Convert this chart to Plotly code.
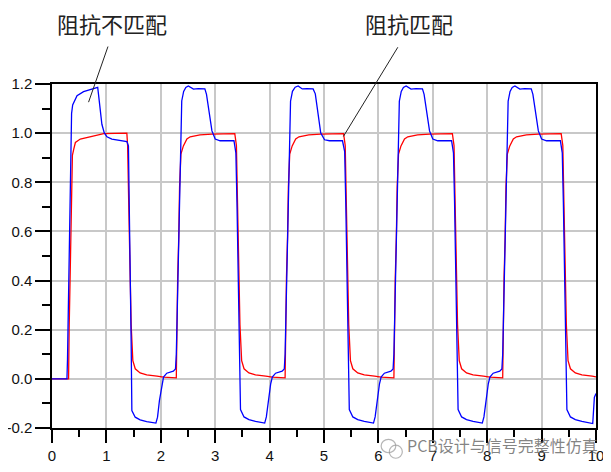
import plotly.graph_objects as go

# ---- data ----
t_unmatched = [
    0.00, 0.275, 0.285, 0.30, 0.315, 0.33, 0.345, 0.36, 0.38, 0.40, 0.46, 0.58, 0.76, 0.84, 0.855, 0.886, 0.917, 0.96,
    1.01, 1.10, 1.28, 1.376, 1.405, 1.42, 1.44, 1.455, 1.468, 1.53, 1.62, 1.74, 1.91, 1.94, 1.975,
    2.02, 2.05, 2.11, 2.23, 2.27, 2.285, 2.30, 2.32, 2.335, 2.36, 2.37, 2.385, 2.42, 2.46, 2.506, 2.55, 2.60, 2.69, 2.81,
    2.84, 2.89, 2.94, 3.00, 3.09, 3.345, 3.38, 3.40, 3.42, 3.445, 3.465, 3.53, 3.62, 3.74, 3.91, 3.94, 3.975,
    4.02, 4.05, 4.11, 4.23, 4.27, 4.285, 4.30, 4.32, 4.335, 4.36, 4.37, 4.385, 4.42, 4.47, 4.525, 4.56, 4.60, 4.69, 4.80,
    4.84, 4.89, 4.94, 5.01, 5.10, 5.34, 5.38, 5.40, 5.42, 5.445, 5.465, 5.53, 5.62, 5.74, 5.91, 5.94, 5.975,
    6.02, 6.05, 6.11, 6.23, 6.27, 6.285, 6.30, 6.32, 6.335, 6.36, 6.37, 6.385, 6.42, 6.46, 6.51, 6.55, 6.60, 6.69, 6.81,
    6.84, 6.89, 6.94, 7.00, 7.09, 7.345, 7.38, 7.40, 7.42, 7.445, 7.465, 7.53, 7.62, 7.74, 7.91, 7.94, 7.975,
    8.02, 8.05, 8.11, 8.23, 8.27, 8.285, 8.30, 8.32, 8.335, 8.36, 8.37, 8.385, 8.42, 8.46, 8.51, 8.55, 8.60, 8.69, 8.81,
    8.84, 8.89, 8.94, 9.00, 9.09, 9.345, 9.38, 9.40, 9.42, 9.445, 9.465, 9.53, 9.62, 9.74, 9.91, 9.94, 9.97, 10.0,
]
v_unmatched = [
    0.000, 0.000, 0.080, 0.260, 0.490, 0.720, 0.950, 1.080, 1.115, 1.125, 1.152, 1.169, 1.181, 1.186, 1.158, 1.090, 1.036, 1.002,
    0.985, 0.976, 0.969, 0.966, 0.948, 0.750, 0.450, 0.150, -0.129, -0.156, -0.167, -0.174, -0.180, -0.156, -0.088,
    -0.020, 0.007, 0.023, 0.031, 0.040, 0.100, 0.250, 0.454, 0.643, 0.955, 1.043, 1.131, 1.170, 1.186, 1.192, 1.185, 1.179, 1.181, 1.180,
    1.158, 1.090, 1.009, 0.976, 0.969, 0.969, 0.920, 0.720, 0.450, 0.150, -0.125, -0.155, -0.166, -0.173, -0.180, -0.155, -0.088,
    -0.020, 0.007, 0.023, 0.031, 0.040, 0.100, 0.250, 0.450, 0.640, 0.950, 1.040, 1.130, 1.170, 1.187, 1.192, 1.185, 1.180, 1.181, 1.180,
    1.160, 1.085, 1.000, 0.973, 0.969, 0.969, 0.925, 0.720, 0.450, 0.150, -0.125, -0.155, -0.166, -0.173, -0.180, -0.155, -0.088,
    -0.020, 0.007, 0.023, 0.031, 0.040, 0.100, 0.250, 0.450, 0.640, 0.950, 1.040, 1.130, 1.170, 1.186, 1.192, 1.185, 1.179, 1.181, 1.180,
    1.158, 1.090, 1.009, 0.976, 0.969, 0.969, 0.920, 0.720, 0.450, 0.150, -0.125, -0.155, -0.166, -0.173, -0.180, -0.155, -0.088,
    -0.020, 0.007, 0.023, 0.031, 0.040, 0.100, 0.250, 0.450, 0.640, 0.950, 1.040, 1.130, 1.170, 1.186, 1.192, 1.185, 1.179, 1.181, 1.180,
    1.158, 1.090, 1.009, 0.976, 0.969, 0.969, 0.920, 0.720, 0.450, 0.150, -0.125, -0.155, -0.166, -0.173, -0.180, -0.182, -0.075, -0.060,
]

t_matched = [
    0.00, 0.305, 0.315, 0.33, 0.345, 0.36, 0.375, 0.40, 0.43, 0.52, 0.70, 0.95, 1.376, 1.39, 1.41, 1.43, 1.455, 1.486,
    1.53, 1.62, 1.74, 1.93, 2.05, 2.285,
    2.295, 2.31, 2.33, 2.345, 2.37, 2.415, 2.48, 2.54, 2.72, 2.94, 3.36, 3.39, 3.41, 3.43, 3.455, 3.486,
    3.53, 3.62, 3.74, 3.93, 4.05, 4.285,
    4.295, 4.31, 4.33, 4.345, 4.37, 4.415, 4.48, 4.54, 4.72, 4.94, 5.36, 5.39, 5.41, 5.43, 5.455, 5.486,
    5.53, 5.62, 5.74, 5.93, 6.05, 6.285,
    6.295, 6.31, 6.33, 6.345, 6.37, 6.415, 6.48, 6.54, 6.72, 6.94, 7.36, 7.39, 7.41, 7.43, 7.455, 7.486,
    7.53, 7.62, 7.74, 7.93, 8.05, 8.285,
    8.295, 8.31, 8.33, 8.345, 8.37, 8.415, 8.48, 8.54, 8.72, 8.94, 9.36, 9.39, 9.41, 9.43, 9.455, 9.486,
    9.53, 9.62, 9.74, 9.93, 10.0,
]
v_matched = [
    0.000, 0.000, 0.200, 0.420, 0.620, 0.800, 0.910, 0.935, 0.962, 0.976, 0.985, 0.998, 1.000, 0.950, 0.720, 0.470, 0.220, 0.074,
    0.041, 0.024, 0.016, 0.011, 0.007, 0.004,
    0.210, 0.410, 0.576, 0.780, 0.915, 0.948, 0.976, 0.985, 0.993, 0.996, 0.998, 0.950, 0.720, 0.470, 0.220, 0.074,
    0.041, 0.024, 0.016, 0.011, 0.007, 0.004,
    0.210, 0.410, 0.576, 0.780, 0.915, 0.948, 0.976, 0.985, 0.993, 0.996, 0.998, 0.950, 0.720, 0.470, 0.220, 0.074,
    0.041, 0.024, 0.016, 0.011, 0.007, 0.004,
    0.210, 0.410, 0.576, 0.780, 0.915, 0.948, 0.976, 0.985, 0.993, 0.996, 0.998, 0.950, 0.720, 0.470, 0.220, 0.074,
    0.041, 0.024, 0.016, 0.011, 0.007, 0.004,
    0.210, 0.410, 0.576, 0.780, 0.915, 0.948, 0.976, 0.985, 0.993, 0.996, 0.998, 0.950, 0.720, 0.470, 0.220, 0.074,
    0.041, 0.024, 0.016, 0.011, 0.008,
]

x_ticks = [0, 1, 2, 3, 4, 5, 6, 7, 8, 9, 10]
y_ticks = [-0.2, 0.0, 0.2, 0.4, 0.6, 0.8, 1.0, 1.2]
y_tick_labels = ["-0.2", "0.0", "0.2", "0.4", "0.6", "0.8", "1.0", "1.2"]

label_unmatched = "阻抗不匹配"
label_matched = "阻抗匹配"
watermark = "PCB设计与信号完整性仿真"

# ---- figure ----
fig = go.Figure()
fig.add_trace(go.Scatter(x=t_matched, y=v_matched, mode="lines",
                         line=dict(color="#ff0000", width=1.3), name=label_matched))
fig.add_trace(go.Scatter(x=t_unmatched, y=v_unmatched, mode="lines",
                         line=dict(color="#0000ff", width=1.3), name=label_unmatched))

axis_font = dict(family="Liberation Sans, Arial, sans-serif", size=15, color="#111111")

# page body has an 8px default margin, compensate in the figure margins
fig.update_layout(
    template="none",
    width=611, height=472,
    margin=dict(l=44, r=23, t=76, b=52, autoexpand=False),
    paper_bgcolor="white", plot_bgcolor="white",
    showlegend=False,
    xaxis=dict(range=[0, 10], tickvals=x_ticks, ticks="outside", ticklen=13, tickwidth=1.5,
               tickcolor="#000000", showline=True, linecolor="#000000", linewidth=1.5, mirror=True,
               showgrid=True, gridcolor="#c8c8c8", gridwidth=1.5, zeroline=False, automargin=False,
               tickfont=axis_font,
               minor=dict(dtick=0.5, ticks="outside", ticklen=7, tickwidth=1.5, tickcolor="#000000",
                          showgrid=False)),
    yaxis=dict(range=[-0.2, 1.2], tickvals=y_ticks, ticktext=y_tick_labels, ticks="outside", ticklen=15,
               tickwidth=1.5, tickcolor="#000000", showline=True, linecolor="#000000", linewidth=1.5,
               mirror=True, showgrid=True, gridcolor="#c8c8c8", gridwidth=1.5, zeroline=False,
               automargin=False, tickfont=axis_font,
               minor=dict(dtick=0.1, ticks="outside", ticklen=8, tickwidth=1.5, tickcolor="#000000",
                          showgrid=False)),
)

cjk = "Noto Sans CJK SC, sans-serif"
fig.add_annotation(x=0.1099, y=1.1785, xref="paper", yref="paper", text=label_unmatched,
                   xanchor="center", yanchor="middle",
                   showarrow=False, font=dict(family=cjk, size=22, color="#222222"))
fig.add_annotation(x=0.6564, y=1.1785, xref="paper", yref="paper", text=label_matched,
                   xanchor="center", yanchor="middle",
                   showarrow=False, font=dict(family=cjk, size=22, color="#222222"))
fig.add_shape(type="line", xref="paper", yref="paper", x0=0.1029, y0=1.1089, x1=0.0672, y1=0.9472,
              line=dict(color="#222222", width=1))
fig.add_shape(type="line", xref="paper", yref="paper", x0=0.6357, y0=1.1068, x1=0.5357, y1=0.8476,
              line=dict(color="#222222", width=1))

# watermark
fig.add_annotation(x=0.828, y=-0.049, xref="paper", yref="paper", text=watermark, showarrow=False,
                   xanchor="center", yanchor="middle",
                   font=dict(family=cjk, size=16, color="rgba(110,110,110,0.85)"))
fig.add_shape(type="circle", xref="paper", yref="paper", x0=0.605, x1=0.632, y0=-0.033, y1=-0.072,
              line=dict(color="rgba(150,150,150,0.7)", width=1.2))
fig.add_shape(type="circle", xref="paper", yref="paper", x0=0.620, x1=0.644, y0=-0.050, y1=-0.088,
              line=dict(color="rgba(150,150,150,0.7)", width=1.2))

fig.write_html("out.html")
